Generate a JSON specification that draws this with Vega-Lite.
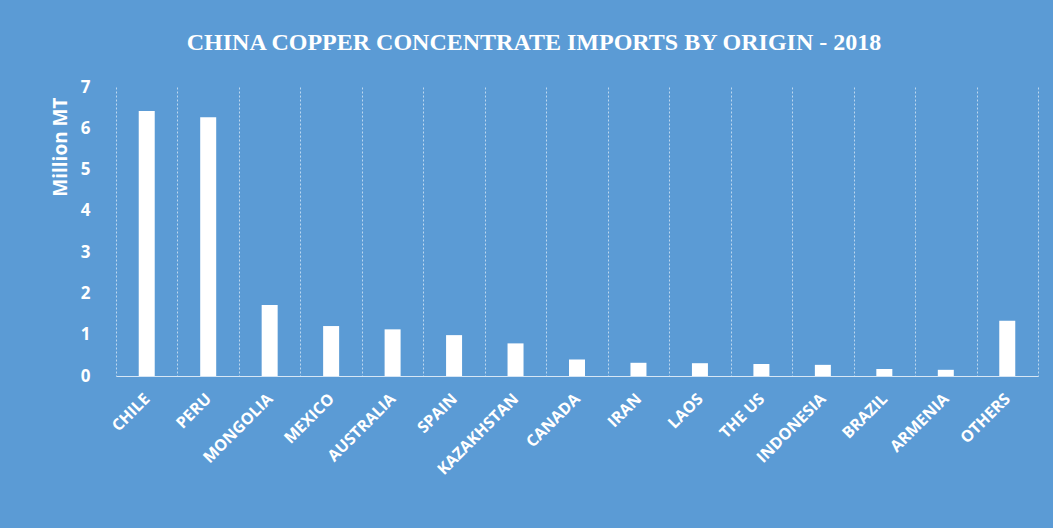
{
  "$schema": "https://vega.github.io/schema/vega-lite/v6.json",
  "autosize": {"type": "none"},
  "width": 922,
  "height": 289,
  "padding": {"left": 116, "top": 87, "right": 15, "bottom": 152},
  "background": "#5B9BD5",
  "config": {"view": {"stroke": null}},
  "title": {
    "text": "CHINA COPPER CONCENTRATE IMPORTS BY ORIGIN - 2018",
    "font": "Liberation Serif",
    "fontWeight": "bold",
    "fontSize": 24,
    "color": "white",
    "anchor": "middle",
    "frame": "group",
    "baseline": "alphabetic",
    "offset": 4,
    "dx": -43
  },
  "data": {
    "values": [
      {"origin": "CHILE", "value": 6.42},
      {"origin": "PERU", "value": 6.27},
      {"origin": "MONGOLIA", "value": 1.72},
      {"origin": "MEXICO", "value": 1.21},
      {"origin": "AUSTRALIA", "value": 1.13},
      {"origin": "SPAIN", "value": 0.99},
      {"origin": "KAZAKHSTAN", "value": 0.79},
      {"origin": "CANADA", "value": 0.4},
      {"origin": "IRAN", "value": 0.32},
      {"origin": "LAOS", "value": 0.31},
      {"origin": "THE US", "value": 0.29},
      {"origin": "INDONESIA", "value": 0.27},
      {"origin": "BRAZIL", "value": 0.17},
      {"origin": "ARMENIA", "value": 0.15},
      {"origin": "OTHERS", "value": 1.34}
    ]
  },
  "mark": {"type": "bar", "color": "white", "size": 16},
  "encoding": {
    "x": {
      "field": "origin",
      "type": "nominal",
      "sort": null,
      "scale": {"paddingInner": 0, "paddingOuter": 0},
      "axis": {
        "title": null,
        "labelAngle": -45,
        "labelAlign": "right",
        "labelBaseline": "middle",
        "labelFont": "Open Sans",
        "labelFontWeight": "bold",
        "labelFontSize": 16,
        "labelColor": "white",
        "labelPadding": 20,
        "ticks": false,
        "tickBand": "extent",
        "grid": true,
        "gridColor": "#D6E6F5",
        "gridOpacity": 0.8,
        "gridDash": [2, 2],
        "gridWidth": 1,
        "domainColor": "#D6E6F5",
        "domainWidth": 1
      }
    },
    "y": {
      "field": "value",
      "type": "quantitative",
      "scale": {"domain": [0, 7], "nice": false},
      "axis": {
        "title": "Million MT",
        "titleFont": "Open Sans",
        "titleFontWeight": "bold",
        "titleFontSize": 19,
        "titleColor": "white",
        "titleAnchor": "end",
        "titleY": 10,
        "titlePadding": 10,
        "values": [0, 1, 2, 3, 4, 5, 6, 7],
        "labelFont": "Open Sans",
        "labelFontWeight": "bold",
        "labelFontSize": 17,
        "labelColor": "white",
        "labelPadding": 26,
        "ticks": false,
        "domain": false,
        "grid": false
      }
    }
  }
}
